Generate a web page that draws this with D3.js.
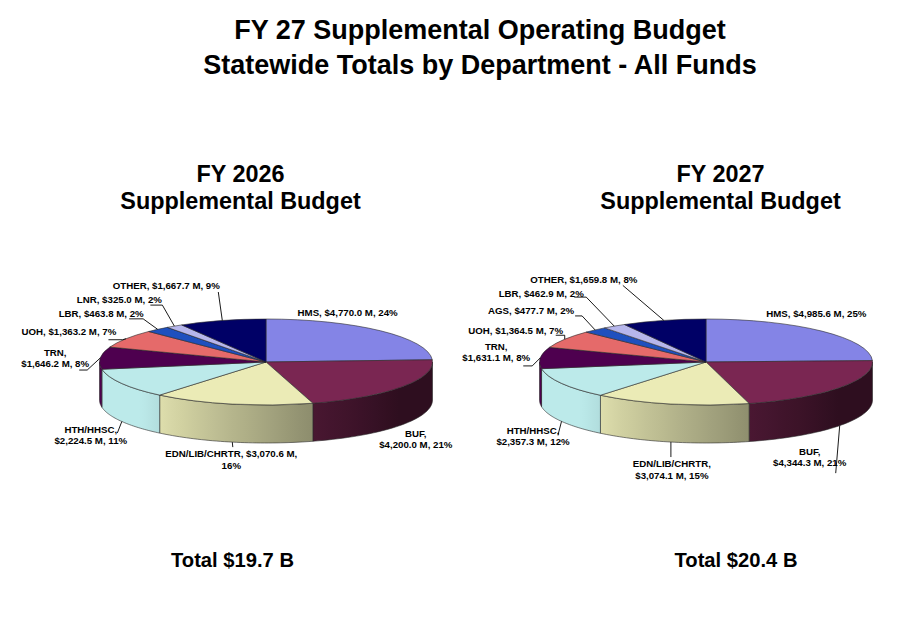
<!DOCTYPE html>
<html>
<head>
<meta charset="utf-8">
<script src="https://cdn.jsdelivr.net/npm/d3@7"></script>
<style>
  body { margin: 0; background: #fff; }
  text { font-family: "Liberation Sans", Arial, sans-serif; font-weight: bold; fill: #000; }
</style>
</head>
<body>
<div id="chart"></div>
<script>
const width = 918, height = 631;

// data
const departments2026 = ["HMS", "BUF", "EDN/LIB/CHRTR", "HTH/HHSC", "TRN", "UOH", "LBR", "LNR", "OTHER"];
const values2026 = [4770.0, 4200.0, 3070.6, 2224.5, 1646.2, 1363.2, 463.8, 325.0, 1667.7];
const percents2026 = [24, 21, 16, 11, 8, 7, 2, 2, 9];

const departments2027 = ["HMS", "BUF", "EDN/LIB/CHRTR", "HTH/HHSC", "TRN", "UOH", "AGS", "LBR", "OTHER"];
const values2027 = [4985.6, 4344.3, 3074.1, 2357.3, 1631.1, 1364.5, 477.7, 462.9, 1659.8];
const percents2027 = [25, 21, 15, 12, 8, 7, 2, 2, 8];

const titleLines = ["FY 27 Supplemental Operating Budget", "Statewide Totals by Department - All Funds"];
const pieTitles = [["FY 2026", "Supplemental Budget"], ["FY 2027", "Supplemental Budget"]];
const totals = ["Total $19.7 B", "Total $20.4 B"];

// slice colours go by position, not by department
const sliceColors = ["#8484E6", "#7A2652", "#EBEBB6", "#BCEAEA", "#4E004F", "#E56A6A", "#1F50BE", "#B6B6EC", "#000066"];

// pie geometry
const rx = 166.5, ry = 43, depth = 38;
const pieCenters = [[266, 362], [706, 362]];
const labelSize = 9.7, labelLine = 11.2;

// label placement: offset of label centre from the slice anchor, line split, leader points (relative to label centre)
const layout2026 = [
    { dx: -33, dy: -18, split: 0, leader: [] },
    { dx: 14, dy: 14.5, split: 1, leader: [] },
    { dx: -1, dy: 17.5, split: 2, leader: [[1.5, -12.5]] },
    { dx: -31, dy: 13.5, split: 1, leader: [[26.5, -2]] },
    { dx: -45, dy: 0, split: 1, leader: [[24, 12], [32, 12]] },
    { dx: -57, dy: -7, split: 0, leader: [[39.5, 8], [53.5, 8]] },
    { dx: -56.5, dy: -15.5, split: 0, leader: [[28, 5], [42, 5]] },
    { dx: -55, dy: -26, split: 0, leader: [[31, 5], [43, 5]] },
    { dx: -56, dy: -34.5, split: 0, leader: [[52, 6]] },
];
const layout2027 = [
    { dx: -5.5, dy: -18, split: 0, leader: [] },
    { dx: -30, dy: 31.5, split: 1, leader: [[26, 16]] },
    { dx: 1, dy: 27.5, split: 1, leader: [[-1, -12.5]] },
    { dx: -28.5, dy: 14.5, split: 1, leader: [[25, -1]] },
    { dx: -44, dy: -6, split: 1, leader: [[27, 14], [36, 14]] },
    { dx: -49, dy: -9, split: 0, leader: [[40, 5], [49, 5]] },
    { dx: -64, dy: -19, split: 0, leader: [[44, 5], [51, 5]] },
    { dx: -73, dy: -33, split: 0, leader: [[33, 4], [45, 4]] },
    { dx: -80, dy: -41, split: 0, leader: [[39, 6]] },
];

const svg = d3.select("#chart")
    .append("svg")
    .attr("width", width)
    .attr("height", height);
const defs = svg.append("defs");

// titles
titleLines.forEach((t, i) => {
    svg.append("text")
        .attr("x", 480)
        .attr("y", 39 + i * 35)
        .attr("text-anchor", "middle")
        .style("font-size", "27px")
        .text(t);
});

const fmt = d3.format(",.1f");
const labelLines = (d, split) => {
    const money = `$${fmt(d.value)} M`;
    if (split === 1) return [`${d.name},`, `${money}, ${d.pct}%`];
    if (split === 2) return [`${d.name}, ${money},`, `${d.pct}%`];
    return [`${d.name}, ${money}, ${d.pct}%`];
};

// side shading: darker on the right, lighter towards the left
const shade = (color, t) => {
    const deg = t * 180 / Math.PI;
    const k = Math.max(0.38, Math.min(1, 0.6 + (deg - 164) * 0.0062));
    const c = d3.rgb(color);
    return d3.rgb(c.r * k, c.g * k, c.b * k).formatHex();
};

const pie = d3.pie().sort(null).value(d => d.value);
const arc = d3.arc().innerRadius(0).outerRadius(rx);
const line = d3.line();

function drawPie(index, names, values, percents, layout) {
    const [cx, cy] = pieCenters[index];
    const rows = names.map((name, i) => ({ name, value: values[i], pct: percents[i], color: sliceColors[i] }));
    const slices = pie(rows);
    const px = t => cx + rx * Math.sin(t);
    const py = t => cy - ry * Math.cos(t);

    // pie title and total
    pieTitles[index].forEach((t, i) => {
        svg.append("text")
            .attr("x", index === 0 ? 240.5 : 720.5)
            .attr("y", 182 + i * 26.5)
            .attr("text-anchor", "middle")
            .style("font-size", "23.4px")
            .text(t);
    });
    svg.append("text")
        .attr("x", index === 0 ? 232.5 : 736)
        .attr("y", 566.5)
        .attr("text-anchor", "middle")
        .style("font-size", "20.2px")
        .text(totals[index]);

    // front walls
    const sides = svg.append("g");
    slices.forEach((s, i) => {
        const s0 = Math.max(s.startAngle, Math.PI / 2);
        const s1 = Math.min(s.endAngle, 3 * Math.PI / 2);
        if (s1 <= s0) return;
        const id = `side-${index}-${i}`;
        const xl = px(s1), xr = px(s0);
        const grad = defs.append("linearGradient")
            .attr("id", id)
            .attr("gradientUnits", "userSpaceOnUse")
            .attr("x1", xl).attr("x2", xr).attr("y1", 0).attr("y2", 0);
        // stops run left to right, i.e. from the end angle back to the start angle
        d3.range(0, 1.0001, 1 / 12).forEach(f => {
            const t = s1 - (s1 - s0) * f;
            grad.append("stop")
                .attr("offset", xr === xl ? 0 : (px(t) - xl) / (xr - xl))
                .attr("stop-color", shade(s.data.color, t));
        });
        const ts = d3.range(0, 1.0001, 1 / 40).map(f => s0 + (s1 - s0) * f);
        const pts = ts.map(t => [px(t), py(t)])
            .concat(ts.slice().reverse().map(t => [px(t), py(t) + depth]));
        sides.append("path")
            .attr("d", line(pts) + "Z")
            .attr("fill", `url(#${id})`)
            .attr("stroke", "#2a2a2a")
            .attr("stroke-width", 0.6)
            .attr("stroke-linejoin", "round");
    });

    // top faces
    svg.append("g")
        .attr("transform", `translate(${cx},${cy}) scale(1,${ry / rx})`)
        .selectAll("path")
        .data(slices)
        .join("path")
        .attr("d", arc)
        .attr("fill", d => d.data.color)
        .attr("stroke", "#2a2a2a")
        .attr("stroke-width", 0.6)
        .attr("vector-effect", "non-scaling-stroke")
        .attr("stroke-linejoin", "round");

    // labels and leaders
    slices.forEach((s, i) => {
        const m = (s.startAngle + s.endAngle) / 2;
        const front = m > Math.PI / 2 && m < 3 * Math.PI / 2;
        const ax = px(m), ay = py(m) + (front ? depth : 0);
        const L = layout[i];
        const lx = ax + L.dx, ly = ay + L.dy;
        if (L.leader.length) {
            const pts = L.leader.map(([ox, oy]) => [lx + ox, ly + oy]).concat([[ax, ay]]);
            svg.append("path")
                .attr("d", line(pts))
                .attr("fill", "none")
                .attr("stroke", "#000")
                .attr("stroke-width", 0.9);
        }
        const lines = labelLines(s.data, L.split);
        lines.forEach((t, j) => {
            svg.append("text")
                .attr("x", lx)
                .attr("y", ly + (j - (lines.length - 1) / 2) * labelLine + 0.35 * labelSize)
                .attr("text-anchor", "middle")
                .style("font-size", `${labelSize}px`)
                .text(t);
        });
    });
}

drawPie(0, departments2026, values2026, percents2026, layout2026);
drawPie(1, departments2027, values2027, percents2027, layout2027);
</script>
</body>
</html>
